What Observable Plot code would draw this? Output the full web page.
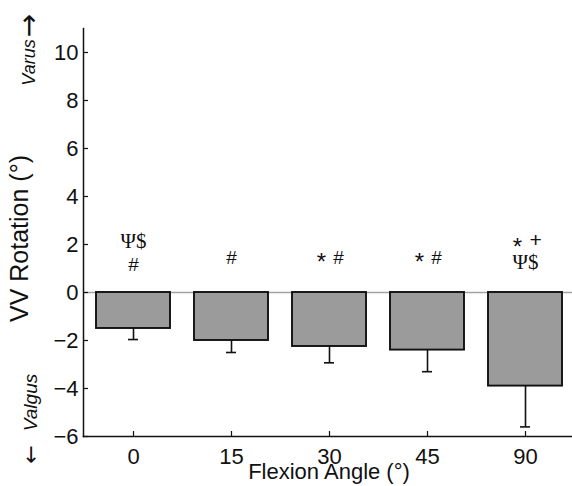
<!DOCTYPE html>
<html><head><meta charset="utf-8">
<script src="https://cdn.jsdelivr.net/npm/d3@7"></script>
<script src="https://cdn.jsdelivr.net/npm/@observablehq/plot@0.6"></script>
<style>body{margin:0;background:#fff} svg{display:block}</style>
</head><body><div id="chart"></div>
<script>
// Data
const angles = ["0", "15", "30", "45", "90"];
const means = [-1.5, -2.0, -2.25, -2.4, -3.9];
const sds = [0.46, 0.5, 0.68, 0.9, 1.7];
const yTicks = [-6, -4, -2, 0, 2, 4, 6, 8, 10];
// Significance markers (category, height in degrees)
const psiAngles = ["0", "90"];
const psiY = [2.14, 1.26];
const hashAngles = ["0", "15", "30", "45"];
const hashY = [1.14, 1.45, 1.45, 1.45];
const starAngles = ["30", "45", "90"];
const starY = [1.45, 1.45, 2.1];
const plusAngles = ["90"];
const plusY = [2.18];

const yTitle = "VV Rotation (°)";
const xTitle = "Flexion Angle (°)";
const upWord = "Varus", upArrow = "→";
const downWord = "Valgus", downArrow = "←";

const data = angles.map((a, i) => ({angle: a, mean: means[i], lo: means[i] - sds[i]}));
const psiNotes = psiAngles.map((a, i) => ({angle: a, y: psiY[i]}));
const hashNotes = hashAngles.map((a, i) => ({angle: a, y: hashY[i]}));
const starNotes = starAngles.map((a, i) => ({angle: a, y: starY[i]}));
const plusNotes = plusAngles.map((a, i) => ({angle: a, y: plusY[i]}));

const W = 572, H = 486, ML = 83, MT = 28, MB = 50, MR = 0;
const frameW = W - ML - MR, frameH = H - MT - MB;
const midY = (MT + H - MB) / 2;
const ink = "#111";
const sans = "'Liberation Sans', Arial, Helvetica, sans-serif";
const fmt = d => d < 0 ? "\u2212" + Math.abs(d) : String(d);

const chart = Plot.plot({
  width: W, height: H,
  marginLeft: ML, marginRight: MR, marginTop: MT, marginBottom: MB,
  style: {fontFamily: sans, fontSize: "22px", background: "#fff", color: ink},
  x: {domain: angles, range: [83, 576], paddingInner: 0.24, paddingOuter: 0.12, align: 0.5, axis: null},
  y: {domain: [-6, 11], axis: null},
  marks: [
    Plot.ruleY([0], {stroke: "#a3a3a3", strokeWidth: 1.5}),
    Plot.barY(data, {x: "angle", y: "mean", fill: "#9b9b9b", stroke: ink, strokeWidth: 1.9}),
    Plot.ruleX(data, {x: "angle", y1: "mean", y2: "lo", stroke: ink, strokeWidth: 1.6}),
    Plot.tickY(data, {x: "angle", y: "lo", insetLeft: 32, insetRight: 32, stroke: ink, strokeWidth: 1.6}),
    // axis lines
    Plot.frame({anchor: "left", stroke: ink, strokeWidth: 1.5}),
    Plot.frame({anchor: "bottom", stroke: ink, strokeWidth: 1.5}),
    // inward ticks
    Plot.tickY(yTicks, {y: d => d, insetRight: frameW - 5, stroke: ink, strokeWidth: 1.2}),
    Plot.tickX(angles, {x: d => d, insetTop: frameH - 5, stroke: ink, strokeWidth: 1.2}),
    // tick labels
    Plot.text(yTicks, {y: d => d, text: fmt, frameAnchor: "left", textAnchor: "end", lineAnchor: "middle", dx: -5, fontSize: 22, fill: ink}),
    Plot.text(angles, {x: d => d, text: d => d, frameAnchor: "bottom", textAnchor: "middle", lineAnchor: "middle", dy: 20, fontSize: 22, fill: ink}),
    // significance markers
    Plot.text(psiNotes, {x: "angle", y: "y", text: () => "Ψ$", fontSize: 21, fontFamily: "'Liberation Serif', 'Times New Roman', serif", fill: ink}),
    Plot.text(hashNotes, {filter: d => !starAngles.includes(d.angle), x: "angle", y: "y", text: () => "#", fontSize: 19, fill: ink}),
    Plot.text(hashNotes, {filter: d => starAngles.includes(d.angle), x: "angle", y: "y", text: () => "#", dx: 9, fontSize: 19, fill: ink}),
    Plot.text(starNotes, {x: "angle", y: "y", text: () => "*", dx: -8, dy: 5, fontSize: 24, fill: ink}),
    Plot.text(plusNotes, {x: "angle", y: "y", text: () => "+", dx: 10, fontSize: 21, fill: ink}),
    // titles
    Plot.text([yTitle], {frameAnchor: "left", textAnchor: "middle", lineAnchor: "middle", dx: -64, dy: 238 - midY, rotate: -90, fontSize: 25, fill: ink}),
    Plot.text([xTitle], {frameAnchor: "bottom", textAnchor: "middle", lineAnchor: "middle", dy: 35, dx: 1, fontSize: 22, fill: ink}),
    Plot.text([upWord], {frameAnchor: "top-left", textAnchor: "middle", lineAnchor: "middle", dx: -54, dy: 62 - MT, rotate: -90, fontSize: 18, fontStyle: "italic", fill: ink}),
    Plot.text([upArrow], {frameAnchor: "top-left", textAnchor: "middle", lineAnchor: "middle", dx: -54, dy: 25 - MT, rotate: -90, fontSize: 28, fontFamily: "'DejaVu Sans', sans-serif", fill: ink}),
    Plot.text([downWord], {frameAnchor: "bottom-left", textAnchor: "middle", lineAnchor: "middle", dx: -53, dy: 402 - (H - MB), rotate: -90, fontSize: 19, fontStyle: "italic", fill: ink}),
    Plot.text([downArrow], {frameAnchor: "bottom-left", textAnchor: "middle", lineAnchor: "middle", dx: -53, dy: 454 - (H - MB), rotate: -90, fontSize: 22, fontFamily: "'DejaVu Sans', sans-serif", fill: ink})
  ]
});
document.getElementById("chart").appendChild(chart);
</script>
</body></html>
